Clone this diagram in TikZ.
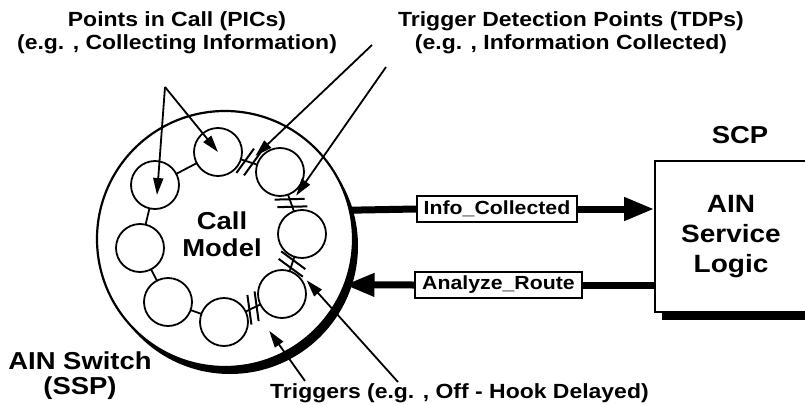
\documentclass[tikz,border=0pt]{standalone}
\usepackage{fontspec}
\setmainfont{Liberation Sans}[FakeStretch=1.12]
\usetikzlibrary{arrows.meta,calc,shadows}
\newcommand\tdpmark[3]{%
  \coordinate (#3) at ($(#1)!0.5!(#2)$);
  \draw[tickline] ($(#3)!-4pt!(#2)!15pt!72:(#2)$) -- ($(#3)!-4pt!(#2)!15pt!-108:(#2)$);
  \draw[tickline] ($(#3)!4pt!(#2)!15pt!72:(#2)$) -- ($(#3)!4pt!(#2)!15pt!-108:(#2)$);
}
\begin{document}
\begin{tikzpicture}[x=1pt,y=-1pt,
  lbl/.style={font=\bfseries\fontsize{20.5}{23}\selectfont, align=center, inner sep=0pt},
  biglbl/.style={font=\bfseries\fontsize{24.5}{27}\selectfont, align=center, inner sep=0pt},
  pic/.style={circle, draw, line width=1.8pt, minimum size=48pt, inner sep=0pt, outer sep=0pt, fill=white},
  wire/.style={line width=1.8pt},
  tickline/.style={line width=2pt},
  pointer/.style={line width=1.8pt, -{Triangle[length=17pt,width=10pt]}},
  bus/.style={line width=7pt},
  bigtip/.style={-{Triangle[length=30pt,width=22pt]}},
  msg/.style={draw, line width=1.5pt, fill=white, font=\bfseries\fontsize{19}{22}\selectfont, minimum height=26pt, inner sep=0pt}
]
\clip (0,0) rectangle (805,404);
\fill[white] (0,0) rectangle (805,404);

% SSP circle with shadow
\node[circle, draw, line width=2.2pt, minimum size=256pt, inner sep=0pt, outer sep=0pt, fill=white,
  drop shadow={shadow xshift=5pt, shadow yshift=-7pt, opacity=1, fill=black}] (ssp) at (225,239) {};

% points in call
\node[pic] (p1) at (218,152) {};
\node[pic] (p2) at (280,172) {};
\node[pic] (p3) at (302,234) {};
\node[pic] (p4) at (282,294) {};
\node[pic] (p5) at (224,322) {};
\node[pic] (p6) at (168,302) {};
\node[pic] (p7) at (140,248) {};
\node[pic] (p8) at (155,185) {};

\draw[wire] (p1) -- (p2);
\draw[wire] (p2) -- (p3);
\draw[wire] (p3) -- (p4);
\draw[wire] (p4) -- (p5);
\draw[wire] (p5) -- (p6);
\draw[wire] (p6) -- (p7);
\draw[wire] (p7) -- (p8);
\draw[wire] (p8) -- (p1);

\tdpmark{p1}{p2}{t12}
\tdpmark{p2}{p3}{t23}
\tdpmark{p3}{p4}{t34}
\tdpmark{p4}{p5}{t45}

\node[biglbl] (cm) at (222,234.5) {Call\\Model};

% SCP
\node[draw, line width=1.6pt, fill=white, minimum width=152pt, minimum height=151pt, inner sep=0pt,
  align=center, font=\bfseries\fontsize{25}{30}\selectfont,
  drop shadow={shadow xshift=7pt, shadow yshift=-8pt, opacity=1, fill=black}] (scp) at (731,236.5) {AIN\\Service\\Logic};
\node[font=\bfseries\fontsize{24.5}{27}\selectfont, anchor=base] (scpt) at (740,143) {SCP};

% messages
\node[msg, minimum width=160pt] (info) at (497,209) {Info\_Collected};
\node[msg, minimum width=167pt] (route) at (498.5,285) {Analyze\_Route};
\draw[bus] (ssp.13.6) -- (info.west);
\draw[bus,bigtip] (info.east) -- (info.east -| scp.west);
\draw[bus] (scp.west |- route.east) -- (route.east);
\draw[bus,bigtip] (route.west) -- (ssp.-21);

% labels
\node[lbl] (piclbl) at (177,33) {Points in Call (PICs)\\(e.g. , Collecting Information)};
\node[lbl] (tdplbl) at (571,33) {Trigger Detection Points (TDPs)\\(e.g. , Information Collected)};
\node[lbl, anchor=base west] (trglbl) at (270,398) {Triggers (e.g. , Off - Hook Delayed)};
\node[biglbl, font=\bfseries\fontsize{24.5}{25}\selectfont] (swlbl) at (80,376) {AIN Switch\\(SSP)};

% pointers
\coordinate (picapex) at (165,87);
\draw[pointer] (picapex) -- ($(p8.center)+(2,10)$);
\draw[pointer] (picapex) -- (p1.center);
\coordinate (tdpA) at (372,45);
\coordinate (tdpB) at (386,67);
\draw[pointer, shorten >=9pt] (tdpA) -- (t12);
\draw[pointer, shorten >=9pt] (tdpB) -- (t23);
\coordinate (trgA) at (305,381);
\coordinate (trgB) at (398,382);
\draw[pointer, shorten >=28pt] (trgA) -- (t45);
\draw[pointer, shorten >=22pt] (trgB) -- (t34);
\end{tikzpicture}
\end{document}
